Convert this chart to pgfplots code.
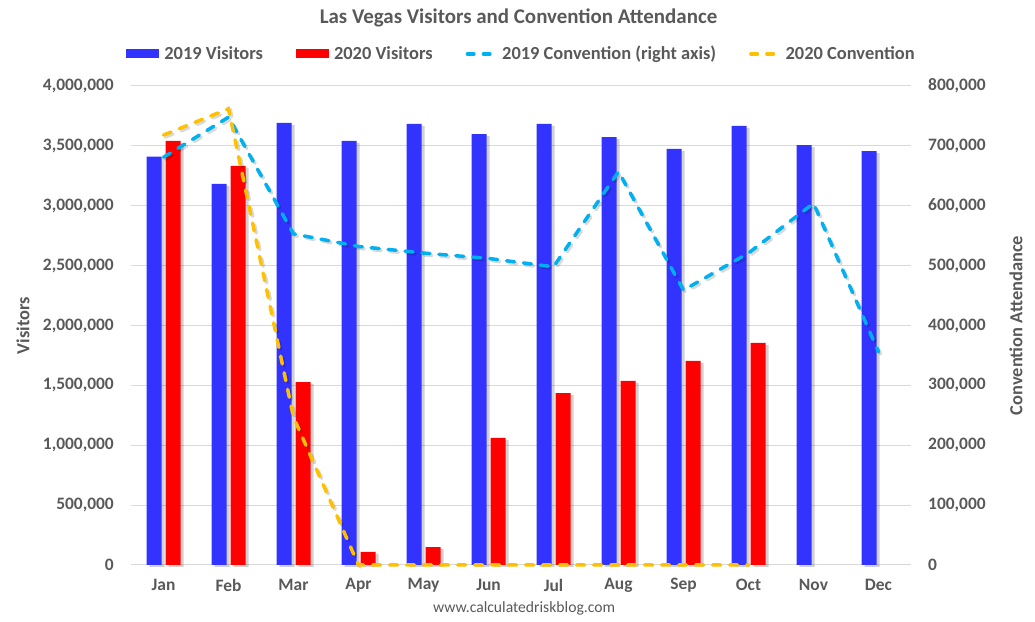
\documentclass[border=0pt]{standalone}
\usepackage{fontspec}
\setmainfont{Carlito}
\usepackage{pgfplots}
\pgfplotsset{compat=1.18}
\definecolor{txt}{HTML}{595959}
\definecolor{gridc}{HTML}{D9D9D9}
\definecolor{b19}{HTML}{3333FF}
\definecolor{r20}{HTML}{FF0000}
\definecolor{c19}{HTML}{00B0F0}
\definecolor{c20}{HTML}{FFC000}
\pgfplotsset{numfmt/.style={/pgf/number format/fixed, /pgf/number format/precision=0, /pgf/number format/1000 sep={,}, /pgf/number format/assume math mode=true}}
\begin{document}
\begin{tikzpicture}[x=1bp,y=1bp]
\useasboundingbox (0,0) rectangle (1035,622);
\begin{axis}[
  at={(131bp,57bp)}, anchor=south west, scale only axis,
  width=780bp, height=479bp,
  xmin=-0.5, xmax=11.5, ymin=0, ymax=4000000,
  xtick={0,1,2,3,4,5,6,7,8,9,10,11},
  xticklabels={Jan,Feb,Mar,Apr,May,Jun,Jul,Aug,Sep,Oct,Nov,Dec},
  ytick={0,500000,1000000,1500000,2000000,2500000,3000000,3500000,4000000},
  scaled y ticks=false,
  numfmt,
  ymajorgrids, grid style={gridc, line width=1bp},
  axis line style={draw=none}, tick style={draw=none}, major tick length=0pt,
  ticklabel style={font=\fontsize{17.5}{19}\selectfont\bfseries, text=txt},
  yticklabel style={anchor=east, inner sep=0pt, xshift=-17bp},
  xticklabel style={anchor=center, inner sep=0pt, yshift=-20bp},
  ylabel={Visitors},
  ylabel style={at={(axis description cs:-0.1385,0.5)}, anchor=center, font=\fontsize{18.5}{20}\selectfont\bfseries, text=txt},
  title={Las Vegas Visitors and Convention Attendance},
  title style={at={(axis description cs:0.4968,1.129)}, anchor=center, yshift=0pt, font=\fontsize{21}{23}\selectfont\bfseries, text=txt},
  legend style={at={(axis description cs:0.5,1.067)}, anchor=center, draw=none, fill=none,
    font=\fontsize{18.5}{20}\selectfont\bfseries, text=txt, nodes={inner sep=1bp},
    /tikz/every odd column/.append style={column sep=4bp},
    /tikz/every even column/.append style={column sep=32bp}},
  legend columns=4,
  legend cell align=left,
  clip=false,
]
\addplot[ybar, bar width=15bp, bar shift=-6.5bp, fill=black, opacity=0.18, draw=none, yshift=-2bp, forget plot]
  coordinates {(0,3410000) (1,3182000) (2,3691000) (3,3541000) (4,3683000) (5,3599000)
               (6,3683000) (7,3574000) (8,3474000) (9,3666000) (10,3507000) (11,3457000)};
\addplot[ybar, bar width=15bp, bar shift=12.5bp, fill=black, opacity=0.18, draw=none, yshift=-2bp, forget plot]
  coordinates {(0,3541000) (1,3332000) (2,1528000) (3,109000) (4,150000) (5,1061000)
               (6,1436000) (7,1537000) (8,1704000) (9,1854000)};
\addplot[ybar, bar width=15bp, bar shift=-9.5bp, fill=b19, draw=none,
  legend image code/.code={\fill[b19] (0bp,-4.5bp) rectangle (33bp,4.5bp);}]
  coordinates {(0,3410000) (1,3182000) (2,3691000) (3,3541000) (4,3683000) (5,3599000)
               (6,3683000) (7,3574000) (8,3474000) (9,3666000) (10,3507000) (11,3457000)};
\addlegendentry{2019 Visitors}
\addplot[ybar, bar width=15bp, bar shift=9.5bp, fill=r20, draw=none,
  legend image code/.code={\fill[r20] (0bp,-4.5bp) rectangle (33bp,4.5bp);}]
  coordinates {(0,3541000) (1,3332000) (2,1528000) (3,109000) (4,150000) (5,1061000)
               (6,1436000) (7,1537000) (8,1704000) (9,1854000)};
\addlegendentry{2020 Visitors}
\addlegendimage{legend image code/.code={\draw[c19, line width=3.5bp, line cap=round, dash pattern=on 6.5bp off 9.5bp] (3bp,0bp) -- (31bp,0bp);}}
\addlegendentry{2019 Convention (right axis)}
\addlegendimage{legend image code/.code={\draw[c20, line width=3.5bp, line cap=round, dash pattern=on 6.5bp off 9.5bp] (3bp,0bp) -- (31bp,0bp);}}
\addlegendentry{2020 Convention}
\node[font=\fontsize{15.7}{17}\selectfont, text=txt] at (axis description cs:0.504,-0.0898) {www.calculatedriskblog.com};
\end{axis}
\begin{axis}[
  at={(131bp,57bp)}, anchor=south west, scale only axis,
  width=780bp, height=479bp,
  xmin=-0.5, xmax=11.5, ymin=0, ymax=800000,
  axis x line=none, axis y line*=right,
  ytick={0,100000,200000,300000,400000,500000,600000,700000,800000},
  scaled y ticks=false,
  numfmt,
  axis line style={draw=none}, tick style={draw=none}, major tick length=0pt,
  ticklabel style={font=\fontsize{17.5}{19}\selectfont\bfseries, text=txt},
  yticklabel style={anchor=west, inner sep=0pt, xshift=17bp},
  ylabel={Convention Attendance},
  ylabel style={at={(axis description cs:1.1346,0.5)}, anchor=center, font=\fontsize{18.5}{20}\selectfont\bfseries, text=txt},
  clip=false,
]
\addplot[black, opacity=0.15, line width=3.5bp, line cap=round, dash pattern=on 8bp off 9bp, xshift=2bp, yshift=-2bp, forget plot]
  coordinates {(0,681000) (1,748000) (2,553000) (3,532000) (4,521000) (5,512000)
               (6,498000) (7,657000) (8,459000) (9,521000) (10,604000) (11,356000)};
\addplot[black, opacity=0.15, line width=3.5bp, line cap=round, dash pattern=on 8bp off 9bp, xshift=2bp, yshift=-2bp, forget plot]
  coordinates {(0,718000) (1,762000) (2,247000) (3,0)};
\addplot[c19, line width=3.5bp, line cap=round, dash pattern=on 8bp off 9bp]
  coordinates {(0,681000) (1,748000) (2,553000) (3,532000) (4,521000) (5,512000)
               (6,498000) (7,657000) (8,459000) (9,521000) (10,604000) (11,356000)};
\addplot[c20, line width=3.5bp, line cap=round, dash pattern=on 8bp off 9bp]
  coordinates {(0,718000) (1,762000) (2,247000) (3,0) (4,0) (5,0)
               (6,0) (7,0) (8,0) (9,0)};
\end{axis}
\end{tikzpicture}
\end{document}
